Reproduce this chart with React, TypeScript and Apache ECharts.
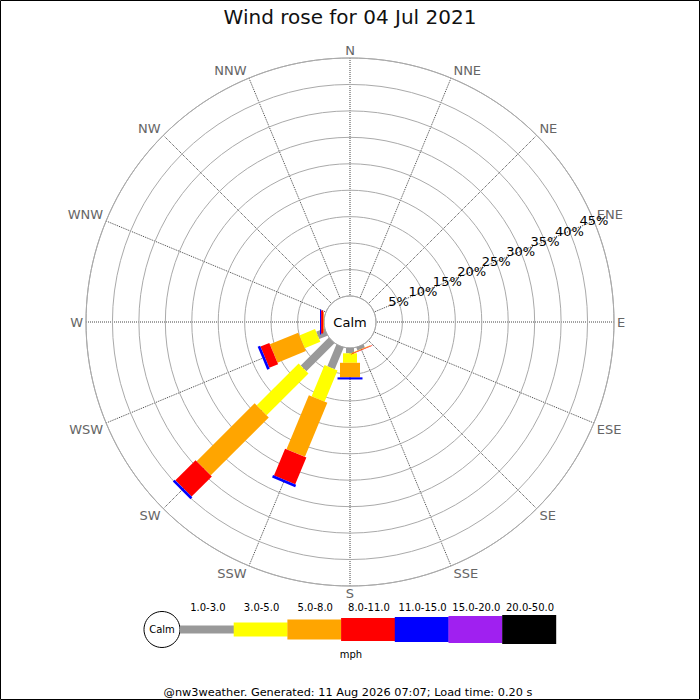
import React, { useEffect, useRef } from "react";
import * as echarts from "echarts";

const chartTitle = "Wind rose for 04 Jul 2021";
const footerText = "@nw3weather. Generated: 11 Aug 2026 07:07; Load time: 0.20 s";
const calmLabel = "Calm";
const unitLabel = "mph";

// compass directions, clockwise from north
const directions = ["N", "NNE", "NE", "ENE", "E", "ESE", "SE", "SSE", "S", "SSW", "SW", "WSW", "W", "WNW", "NW", "NNW"];
const speedBins = ["1.0-3.0", "3.0-5.0", "5.0-8.0", "8.0-11.0", "11.0-15.0", "15.0-20.0", "20.0-50.0"];
const binColors = ["#999999", "#ffff00", "#ffa500", "#ff0000", "#0000ff", "#a020f0", "#000000"];
const binWidths = [8, 14, 20, 23, 25, 27, 29];

// frequency (%) per direction (N..NNW) for each speed bin
const bin1to3 = [0, 0, 0, 0, 0, 0, 0, 0.6, 1.0, 4.45, 7.5, 1.7, 0, 0, 0, 0];
const bin3to5 = [0, 0, 0, 0, 0, 0, 0, 0, 1.8, 6.4, 11.2, 3.2, 0, 0, 0, 0];
const bin5to8 = [0, 0, 0, 0, 0, 0, 0, 0.15, 2.75, 11.05, 15.5, 5.8, 0.15, 0, 0, 0];
const bin8to11 = [0, 0, 0, 0, 0, 0, 0, 0.1, 0, 5.5, 5.4, 1.8, 0.4, 0, 0, 0];
const bin11to15 = [0, 0, 0, 0, 0, 0, 0, 0, 0.4, 0.5, 0.5, 0.5, 0.2, 0, 0, 0];
const bin15to20 = [0, 0, 0, 0, 0, 0, 0, 0, 0, 0, 0, 0, 0, 0, 0, 0];
const bin20to50 = [0, 0, 0, 0, 0, 0, 0, 0, 0, 0, 0, 0, 0, 0, 0, 0];
const binValues = [bin1to3, bin3to5, bin5to8, bin8to11, bin11to15, bin15to20, bin20to50];

const radiusMax = 45;
const radiusStep = 5;
const sectorDeg = 360 / directions.length;

const FONT = "DejaVu Sans";
const CX = 350;
const CY = 322;
const R_INNER = 26;
const R_OUTER = 264;

// angle axis (value, degrees) starts at ENE so the radius labels run along that direction
const AXIS_OFFSET = 3; // ENE index
const angleOf = (dirIdx: number) => ((dirIdx - AXIS_OFFSET + directions.length) % directions.length) * sectorDeg;
const labelOf = (deg: number) => directions[(Math.round(deg / sectorDeg) + AXIS_OFFSET) % directions.length];

function buildSeries() {
  const cumulative = directions.map(() => 0);
  return binValues.map((vals, k) => {
    const data: number[][] = [];
    directions.forEach((d, i) => {
      const start = cumulative[i];
      const end = start + vals[i];
      cumulative[i] = end;
      if (vals[i] > 0) data.push([angleOf(i), start, end]);
    });
    const w = binWidths[k];
    const color = binColors[k];
    return {
      type: "custom",
      name: speedBins[k],
      coordinateSystem: "polar",
      polarIndex: 0,
      encode: { angle: 0, radius: 2 },
      z: 5,
      silent: true,
      renderItem: (params: any, api: any) => {
        const ang = api.value(0);
        const r0 = api.value(1);
        const r1 = api.value(2);
        if (!(r1 > r0)) return null;
        const a = api.coord([r0, ang]);
        const b = api.coord([r1, ang]);
        const cx = params.coordSys.cx;
        const cy = params.coordSys.cy;
        let ux = b[0] - cx;
        let uy = b[1] - cy;
        const len = Math.hypot(ux, uy) || 1;
        ux /= len;
        uy /= len;
        const nx = (-uy * w) / 2;
        const ny = (ux * w) / 2;
        return {
          type: "polygon",
          shape: {
            points: [
              [a[0] + nx, a[1] + ny],
              [b[0] + nx, b[1] + ny],
              [b[0] - nx, b[1] - ny],
              [a[0] - nx, a[1] - ny],
            ],
          },
          style: { fill: color },
        };
      },
      data,
    };
  });
}

function buildGraphics() {
  const g: any[] = [];
  g.push({
    type: "rect",
    silent: true,
    shape: { x: 0.5, y: 0.5, width: 699, height: 699 },
    style: { fill: "none", stroke: "#000", lineWidth: 1 },
    z: 100,
  });
  g.push({
    type: "text",
    x: CX,
    y: CY,
    z: 50,
    style: { text: calmLabel, align: "center", verticalAlign: "middle", fontSize: 13, fill: "#000", fontFamily: FONT },
  });
  // legend
  const lx0 = 180;
  const ly = 629.5;
  const cellW = 53.7;
  g.push({
    type: "circle",
    shape: { cx: 162, cy: ly, r: 18 },
    style: { fill: "#fff", stroke: "#000", lineWidth: 1 },
  });
  g.push({
    type: "text",
    x: 162,
    y: ly,
    style: { text: calmLabel, align: "center", verticalAlign: "middle", fontSize: 10, fill: "#000", fontFamily: FONT },
  });
  speedBins.forEach((lab, k) => {
    const x = lx0 + k * cellW;
    const h = binWidths[k];
    g.push({
      type: "rect",
      shape: { x, y: ly - h / 2, width: cellW + 0.3, height: h },
      style: { fill: binColors[k] },
    });
    g.push({
      type: "text",
      x: x + cellW / 2 + 1,
      y: 607,
      style: { text: lab, align: "center", verticalAlign: "middle", fontSize: 10, fill: "#000", fontFamily: FONT },
    });
  });
  g.push({
    type: "text",
    x: 351,
    y: 654,
    style: { text: unitLabel, align: "center", verticalAlign: "middle", fontSize: 10, fill: "#000", fontFamily: FONT },
  });
  g.push({
    type: "text",
    x: 348,
    y: 692.5,
    style: { text: footerText, align: "center", verticalAlign: "middle", fontSize: 11.3, fill: "#000", fontFamily: FONT },
  });
  return g;
}

const radiusLabelStyle = {
  margin: 0,
  align: "center",
  verticalAlign: "middle",
  color: "#000",
  fontSize: 13,
  fontFamily: FONT,
  showMinLabel: false,
};

export default function App() {
  const ref = useRef<HTMLDivElement>(null);
  useEffect(() => {
    document.body.style.margin = "0";
    if (!ref.current) return;
    const chart = echarts.init(ref.current, null, { renderer: "svg" });
    const option: any = {
      animation: false,
      backgroundColor: "#ffffff",
      textStyle: { fontFamily: FONT },
      title: {
        text: chartTitle,
        left: "center",
        top: 2,
        textStyle: { fontSize: 20, fontWeight: "normal", color: "#111", fontFamily: FONT },
      },
      polar: [
        { center: [CX, CY], radius: [R_INNER, R_OUTER] },
        { center: [CX, CY], radius: [R_INNER, R_OUTER] },
      ],
      angleAxis: [
        {
          polarIndex: 0,
          type: "value",
          min: 0,
          max: 360,
          interval: sectorDeg,
          startAngle: 22.5,
          clockwise: true,
          axisLine: { show: true, lineStyle: { color: "#aaaaaa", width: 1 } },
          axisTick: { show: false },
          axisLabel: {
            margin: 1,
            padding: [0, 2, 0, 2],
            color: "#666666",
            fontSize: 13,
            fontFamily: FONT,
            formatter: (v: number) => (v >= 360 ? "" : labelOf(v)),
          },
          splitLine: { show: true, lineStyle: { color: "#444444", type: "dotted", width: 1 } },
          z: 1,
        },
        {
          polarIndex: 1,
          type: "value",
          min: 0,
          max: 360,
          interval: sectorDeg,
          startAngle: 22.5,
          clockwise: true,
          axisLine: { show: false },
          axisTick: { show: false },
          axisLabel: { show: false },
          splitLine: { show: false },
        },
      ],
      radiusAxis: [
        {
          polarIndex: 0,
          type: "value",
          min: 0,
          max: radiusMax,
          interval: radiusStep,
          axisLine: { show: false },
          axisTick: { show: false },
          axisLabel: { ...radiusLabelStyle, formatter: "{value}%", showMaxLabel: false },
          splitLine: { show: true, lineStyle: { color: "#aaaaaa", width: 1 } },
          z: 3,
        },
        {
          polarIndex: 1,
          type: "value",
          min: 0,
          max: radiusMax,
          interval: radiusStep,
          axisLine: { show: false },
          axisTick: { show: false },
          axisLabel: {
            ...radiusLabelStyle,
            formatter: (v: number) => (v === radiusMax ? v + "%" : ""),
            showMaxLabel: true,
          },
          splitLine: { show: false },
          z: 3,
        },
      ],
      series: buildSeries(),
      graphic: buildGraphics(),
    };
    chart.setOption(option);
    return () => chart.dispose();
  }, []);
  return <div ref={ref} style={{ width: 700, height: 700 }} />;
}
